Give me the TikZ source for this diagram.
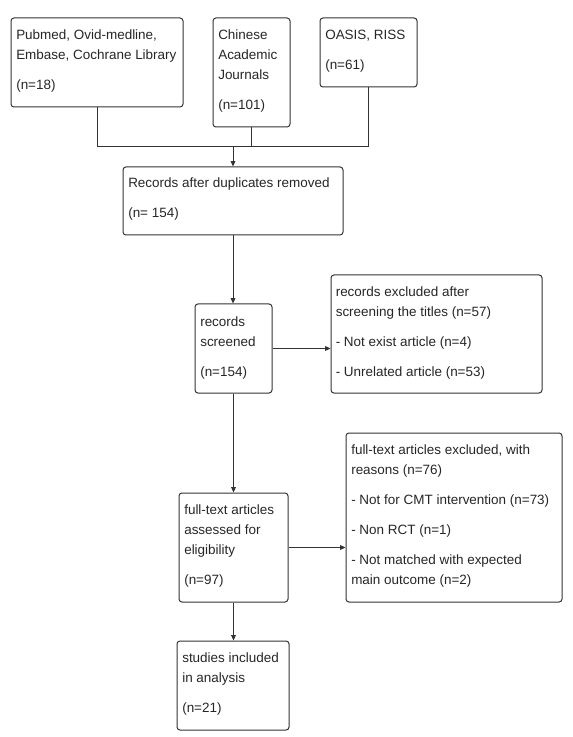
\documentclass[tikz,border=0pt]{standalone}
\usepackage{fontspec}
\setmainfont{Liberation Sans}
\usetikzlibrary{fit,arrows.meta}
\begin{document}
\begin{tikzpicture}[x=0.75pt,y=-0.75pt,
  box/.style={draw=black!80, line width=0.75pt, rounded corners=2.2pt, inner sep=0pt},
  txt/.style={anchor=base west, inner sep=0pt, align=left, text=black!85, font=\fontsize{10.1}{15}\selectfont},
  conn/.style={draw=black!80, line width=0.75pt},
  arr/.style={conn, -{Triangle[length=4pt,width=3.5pt]}}]
\useasboundingbox (0,0) rectangle (572,737);
% boxes
\node[box, fit={(11,18) (183,107)}] (A) {};
\node[box, fit={(213,18) (290,127)}] (B) {};
\node[box, fit={(320,18) (417,87)}] (C) {};
\node[box, fit={(123,167) (343,235)}] (D) {};
\node[box, fit={(195,304) (272,393)}] (E) {};
\node[box, fit={(331,275) (542,393)}] (F) {};
\node[box, fit={(179,493) (288,602)}] (G) {};
\node[box, fit={(346,433) (562,602)}] (H) {};
\node[box, fit={(177,641) (289,730)}] (I) {};
% texts (anchored at the baseline of the last line)
\node[txt] (At) at (16,89.5) {Pubmed, Ovid-medline,\\Embase, Cochrane Library\\[7.5pt](n=18)};
\node[txt] (Bt) at (218,109.5) {Chinese\\Academic\\Journals\\[7.5pt](n=101)};
\node[txt] (Ct) at (325,69.5) {OASIS, RISS\\[7.5pt](n=61)};
\node[txt] (Dt) at (128,218) {Records after duplicates removed\\[7.5pt](n= 154)};
\node[txt] (Et) at (200,376) {records\\screened\\[7.5pt](n=154)};
\node[txt] (Ft) at (335.5,376) {records excluded after\\screening the titles (n=57)\\[7.5pt]- Not exist article (n=4)\\[7.5pt]- Unrelated article (n=53)};
\node[txt] (Gt) at (184,584) {full-text articles\\assessed for\\eligibility\\[7.5pt](n=97)};
\node[txt] (Ht) at (351,584) {full-text articles excluded, with\\reasons (n=76)\\[7.5pt]- Not for CMT intervention (n=73)\\[7.5pt]- Non RCT (n=1)\\[7.5pt]- Not matched with expected\\main outcome (n=2)};
\node[txt] (It) at (182,712.5) {studies included\\in analysis\\[7.5pt](n=21)};
% connectors
\coordinate (j) at (233,147);
\draw[conn] (A.south) -- (A.south |- j) -- (C.south |- j) -- (C.south);
\draw[conn] (B.south) -- (B.south |- j);
\draw[arr] (j) -- (D.north -| j);
\draw[arr] (D.south) -- (E.north -| D.south);
\draw[arr] (E.east) -- (F.west |- E.east);
\draw[arr] (E.south) -- (G.north -| E.south);
\draw[arr] (G.east) -- (H.west |- G.east);
\draw[arr] (G.south) -- (I.north -| G.south);
\end{tikzpicture}
\end{document}
